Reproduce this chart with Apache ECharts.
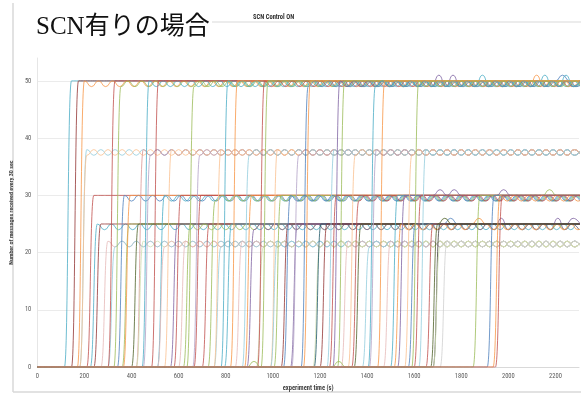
<!DOCTYPE html>
<html><head><meta charset="utf-8">
<script src="https://cdn.jsdelivr.net/npm/echarts@6/dist/echarts.min.js"></script>
<style>html,body{margin:0;padding:0;background:#fff}#c{width:587px;height:397px}</style>
</head><body><div id="c"></div>
<script>
// Tick labels
const xTickLabels = [0,200,400,600,800,1000,1200,1400,1600,1800,2000,2200];
const yTickLabels = [0,10,20,30,40,50];

// Time (s) of the last zero sample before each series jumps to its plateau
const riseTimes = [
  115,145,180,170,180,210,225,240,270,300,
  300,325,340,360,365,400,420,420,445,450,
  485,510,510,540,565,580,600,620,635,660,
  665,700,725,750,750,780,795,820,840,870,
  880,890,930,935,950,990,990,1005,1035,1045,
  1075,1080,1120,1130,1170,1175,1200,1230,1240,1255,
  1275,1290,1320,1335,1345,1380,1405,1410,1445,1470,
  1500,1515,1530,1560,1575,1590,1600,1620,1650,1670,
  1680,1680,1710,1850,1910,1935,1945
];
// Plateau values: samples after the rise alternate A, B, A, B ...
const plateauA = [
  50,50,38,50,37,30,25,25,22,21,
  50,49,30,25,30,25,38,22,50,37,
  50,30,21,38,25,30,22,25,49,37,
  30,25,29,21,38,50,25,50,22,37,
  30,24,21,50,50,38,22,30,25,30,
  25,37,49,50,21,25,25,38,30,50,
  50,22,37,29,25,21,49,38,50,22,
  30,25,30,37,25,50,30,38,25,25,
  25,21,22,30,30,30,30
];
const plateauB = [
  50,50,37,49,38,30,24,25,21,22,
  50,50,29,25,30,25,37,21,49,38,
  50,29,22,37,25,30,21,24,50,38,
  30,25,30,22,37,49,25,50,21,38,
  30,25,22,49,50,37,21,30,25,29,
  25,38,50,50,22,25,25,37,30,49,
  50,21,38,30,25,22,50,37,50,21,
  30,24,30,38,25,49,30,37,25,25,
  25,22,21,30,30,29,30
];
// Isolated readings that differ from the plateau: [series index, time (s), value]
const bumps = [
  [59,1710,51],[59,1770,51],[35,1890,51],[3,2115,51],[18,2160,51],[52,2220,51],[66,2250,51],
  [72,1700,31],[72,1770,31],[72,1980,31],[47,2190,31],
  [79,1720,26],[74,1770,26],[71,1880,26],[41,1980,26],[41,2220,26],[24,2280,26],
  [83,930,1],[83,1290,1]
];

// Styles
const palette = {C:'#4BACC6',O:'#F79646',R:'#C0504D',G:'#9BBB59',P:'#8064A2',B:'#4F81BD',
  BR:'#943634',DG:'#4F6228',DC:'#215968',DK:'#3F3F3F',LC:'#93CDDD',LO:'#FAC090',LU:'#B3A2C7',
  LP:'#E6B9B8',LG:'#D0DFB0',LS:'#D0D0D0',PK:'#D99694'};
const seriesColors = [
  'C','BR','LC','O','LO','R','C','BR','LP','LC',
  'R','G','B','G','O','DG','PK','LG','C','LU',
  'R','C','LP','LO','P','R','LP','G','G','LU',
  'R','R','G','LC','LO','C','C','O','LP','LC',
  'O','P','LG','R','G','LO','LC','G','BR','B',
  'P','LU','B','O','LG','DC','BR','LC','R','P',
  'G','LP','LO','R','DG','LC','C','LU','O','LP',
  'C','O','P','LO','B','G','R','LC','R','DG',
  'DK','LG','LS','G','B','O','R'
];

const XMAX = 2300;
const series = riseTimes.map((t0, i) => {
  const pts = [];
  if (t0 % 30 !== 0) pts.push([0, 0]);
  const kMin = -Math.floor(t0 / 30);
  for (let k = kMin; t0 + 30 * (k - 1) < XMAX; k++) {
    const t = t0 + 30 * k;
    const v = k <= 0 ? 0 : (k % 2 === 1 ? plateauA[i] : plateauB[i]);
    pts.push([t, v]);
  }
  bumps.forEach(([s, T, v]) => {
    if (s !== i) return;
    let best = 0, bd = Infinity;
    pts.forEach((p, j) => { const d = Math.abs(p[0] - T); if (d < bd) { bd = d; best = j; } });
    pts[best][1] = v;
  });
  return {
    type: 'line', data: pts, smooth: 0.55, smoothMonotone: 'x', showSymbol: false, silent: true,
    lineStyle: { width: 1, color: palette[seriesColors[i]], opacity: 0.8 },
    itemStyle: { color: palette[seriesColors[i]] }
  };
});

const narrow = '"Liberation Sans Narrow","Roboto Condensed",Roboto,sans-serif';
const chart = echarts.init(document.getElementById('c'), null, {renderer: 'canvas'});
chart.setOption({
  animation: false,
  title: [
    {text: 'SCN有りの場合', left: 31, top: 10,
     textStyle: {fontFamily: '"Liberation Serif","Noto Sans CJK JP",serif', fontSize: 25, fontWeight: 'normal', color: '#111'}},
    {text: 'SCN Control ON', left: 248, top: 9,
     textStyle: {fontFamily: narrow, fontSize: 6.5, fontWeight: 'bold', color: '#333'}}
  ],
  graphic: [
    {type: 'line', shape: {x1: 13, y1: 3, x2: 13, y2: 392}, style: {stroke: '#d9d9d9', lineWidth: 1.5}},
    {type: 'line', shape: {x1: 212, y1: 22, x2: 581, y2: 22}, style: {stroke: '#e6e6e6', lineWidth: 1.5}},
    {type: 'line', shape: {x1: 13, y1: 392, x2: 581, y2: 392}, style: {stroke: '#d9d9d9', lineWidth: 1.5}}
  ],
  grid: {left: 36, right: 8, top: 58, bottom: 27},
  xAxis: {
    type: 'value', min: 0, max: XMAX, interval: 200,
    axisLine: {lineStyle: {color: '#d9d9d9'}}, axisTick: {show: false}, splitLine: {show: false},
    axisLabel: {fontSize: 6.5, color: '#595959', margin: 6, fontFamily: narrow,
      formatter: v => xTickLabels.includes(v) ? String(v) : ''},
    name: 'experiment time (s)', nameLocation: 'middle', nameGap: 15,
    nameTextStyle: {fontSize: 6.5, fontWeight: 'bold', color: '#404040', fontFamily: narrow}
  },
  yAxis: {
    type: 'value', min: 0, max: 54, interval: 10,
    axisLine: {show: true, lineStyle: {color: '#e6e6e6'}}, axisTick: {show: false},
    splitLine: {show: true, showMaxLine: false, lineStyle: {color: '#ebebeb'}},
    axisLabel: {fontSize: 6.5, color: '#595959', margin: 6, fontFamily: narrow,
      showMaxLabel: false, formatter: v => yTickLabels.includes(v) ? String(v) : ''},
    name: 'Number of messages received every 30 sec', nameLocation: 'middle', nameGap: 16,
    nameTextStyle: {fontSize: 6, fontWeight: 'bold', color: '#404040', fontFamily: narrow}
  },
  series: series
});
</script>
</body></html>
